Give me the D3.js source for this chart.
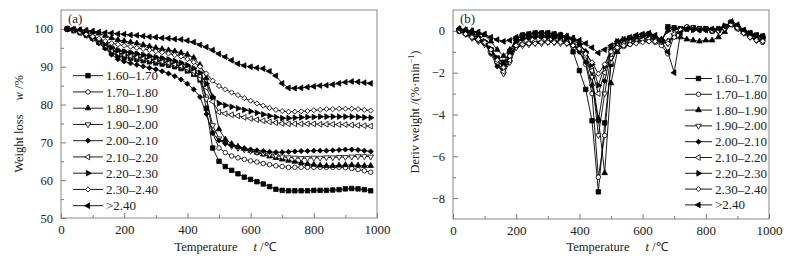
<!DOCTYPE html>
<html>
<head>
<meta charset="utf-8">
<script src="https://cdn.jsdelivr.net/npm/d3@7"></script>
<style>
  body { margin: 0; background: #fff; }
  text { font-family: "Liberation Serif", "Times New Roman", serif; fill: #222; }
</style>
</head>
<body>
<svg id="chart" width="802" height="260"></svg>
<script>
// temperature grid (°C) of the measured points
const temps = [20,40,60,80,100,120,140,160,180,200,220,240,260,280,300,320,340,360,380,400,
  420,440,460,480,500,520,540,560,580,600,620,640,660,680,700,720,740,760,780,800,
  820,840,860,880,900,920,940,960,980]

const seriesNames = ["1.60–1.70","1.70–1.80","1.80–1.90","1.90–2.00","2.00–2.10",
  "2.10–2.20","2.20–2.30","2.30–2.40",">2.40"]

const xTicks = [0,200,400,600,800,1000]
const xMinor = [100,300,500,700,900]
const yTicksA = [50,60,70,80,90,100]
const yMinorA = [55,65,75,85,95]
const yTicksB = [-8,-6,-4,-2,0]
const yMinorB = [-7,-5,-3,-1]

// (a) weight loss w / %
const w1617 = [100,99.7,99.2,98.5,97.6,96.4,95.1,93.7,92.9,92.5,92.2,91.9,91.6,91.3,91.0,90.7,90.4,90.0,89.5,88.9,
  88.0,86.5,79.0,68.5,65.0,63.6,62.6,61.7,60.8,60.2,59.6,59.0,58.3,57.6,57.3,57.2,57.2,57.2,57.2,57.3,
  57.3,57.3,57.4,57.5,57.7,57.8,57.7,57.5,57.2]
const w1718 = [100,99.7,99.2,98.6,97.9,97.1,96.2,95.2,94.4,94.0,93.7,93.4,93.1,92.8,92.5,92.2,91.8,91.4,90.9,90.2,
  89.2,87.6,82.0,72.5,68.5,67.3,66.4,65.9,65.5,65.1,64.8,64.4,64.1,63.8,63.6,63.4,63.4,63.4,63.4,63.4,
  63.4,63.4,63.4,63.4,63.3,63.1,62.8,62.5,62.1]
const w1819 = [100,99.9,99.7,99.5,99.2,98.8,98.2,97.6,97.1,96.8,96.5,96.2,95.8,95.4,95.0,94.7,94.4,94.1,93.7,93.2,
  92.4,90.5,87.0,82.0,73.5,70.8,69.6,68.9,68.3,67.8,67.3,66.8,66.3,65.9,65.5,65.2,64.9,64.6,64.3,64.1,
  63.9,63.8,63.8,63.9,64.0,64.0,63.9,63.8,63.8]
const w1920 = [100,99.7,99.2,98.5,97.8,97.0,96.0,94.8,93.8,93.2,92.8,92.5,92.2,91.9,91.6,91.3,90.9,90.5,90.0,89.3,
  88.3,86.8,81.5,74.5,71.0,69.8,69.0,68.5,68.1,67.7,67.4,67.1,66.8,66.5,66.2,66.0,65.9,65.8,65.8,65.9,
  65.9,66.0,66.0,66.1,66.1,66.2,66.3,66.3,66.2]
const w2021 = [100,99.6,99.0,98.2,97.3,96.2,94.8,93.2,92.0,91.4,90.9,90.5,90.1,89.7,89.3,88.8,88.2,87.5,86.6,85.5,
  84.0,82.0,77.5,72.5,70.5,69.7,69.2,68.8,68.4,68.1,67.9,67.7,67.5,67.4,67.4,67.5,67.6,67.7,67.7,67.8,
  67.8,67.8,67.9,68.0,68.1,68.1,68.0,67.8,67.6]
const w2122 = [100,99.6,99.0,98.3,97.5,96.6,95.6,94.4,93.6,93.2,92.9,92.6,92.3,92.0,91.7,91.4,91.1,90.7,90.2,89.6,
  88.8,87.6,84.5,80.8,78.0,77.6,77.3,77.0,76.6,76.3,76.0,75.7,75.4,75.2,75.0,74.9,74.9,74.9,74.9,74.9,
  74.8,74.8,74.8,74.7,74.7,74.6,74.5,74.4,74.3]
const w2223 = [100,99.6,99.1,98.4,97.7,96.9,96.0,95.0,94.3,94.0,93.7,93.4,93.1,92.8,92.5,92.2,91.9,91.5,91.0,90.4,
  89.6,88.4,85.5,82.0,80.3,79.8,79.4,79.0,78.6,78.2,77.8,77.4,77.0,76.7,76.4,76.4,76.5,76.6,76.7,76.7,
  76.8,76.8,76.8,76.8,76.8,76.8,76.7,76.6,76.5]
const w2324 = [100,99.7,99.2,98.6,98.0,97.4,96.8,96.2,95.9,95.6,95.3,95.0,94.7,94.4,94.1,93.8,93.5,93.1,92.7,92.0,
  91.2,90.0,88.2,86.3,84.9,84.0,83.2,82.5,81.7,81.0,80.3,79.7,79.1,78.6,78.3,78.1,78.1,78.2,78.3,78.5,
  78.6,78.8,78.8,78.9,78.9,78.9,78.8,78.6,78.4]
const w24 = [100,99.9,99.8,99.6,99.4,99.2,99.0,98.9,98.7,98.6,98.4,98.3,98.1,97.9,97.8,97.6,97.5,97.3,97.2,96.9,
  96.5,95.8,95.2,94.4,93.4,92.6,91.7,90.8,90.3,90.0,89.7,89.5,88.8,87.6,85.6,84.4,84.3,84.4,84.6,84.8,
  85.0,85.1,85.3,85.6,85.9,86.1,86.0,85.8,85.6]

// (b) derivative weight / (%·min-1)
const d1617 = [0.0,-0.1,-0.2,-0.35,-0.55,-0.9,-1.3,-1.5,-1.0,-0.4,-0.2,-0.15,-0.1,-0.1,-0.1,-0.15,-0.2,-0.4,-1.0,-1.9,
  -2.8,-4.3,-7.7,-4.4,-1.6,-0.75,-0.5,-0.35,-0.3,-0.2,-0.15,-0.35,-0.5,0.2,0.15,0.1,0.1,0.15,0.1,0.1,
  0.0,0.05,0.2,0.4,0.2,0.0,-0.1,-0.2,-0.25]
const d1718 = [0.0,-0.15,-0.3,-0.45,-0.6,-0.95,-1.4,-1.7,-1.2,-0.75,-0.65,-0.6,-0.55,-0.55,-0.5,-0.5,-0.5,-0.55,-0.7,-1.0,
  -1.6,-3.0,-7.0,-5.0,-1.5,-0.9,-0.75,-0.65,-0.55,-0.5,-0.5,-0.55,-0.7,-1.1,-0.2,0.1,0.2,0.15,0.1,0.05,
  0.0,0.0,0.1,0.3,0.1,-0.1,-0.3,-0.45,-0.55]
const d1819 = [0.1,0.05,0.0,-0.1,-0.2,-0.5,-0.9,-1.2,-0.9,-0.4,-0.25,-0.2,-0.2,-0.2,-0.2,-0.2,-0.2,-0.25,-0.35,-0.6,
  -1.0,-2.2,-4.2,-6.8,-2.5,-1.0,-0.7,-0.55,-0.45,-0.4,-0.3,-0.3,-0.4,-0.5,-0.3,-0.3,-0.4,-0.45,-0.5,-0.45,
  -0.45,-0.3,-0.05,0.3,0.2,-0.05,-0.2,-0.3,-0.3]
const d1920 = [0.0,-0.15,-0.35,-0.5,-0.65,-1.0,-1.6,-2.05,-1.5,-0.8,-0.7,-0.65,-0.6,-0.6,-0.55,-0.55,-0.6,-0.6,-0.7,-0.9,
  -1.3,-2.2,-5.0,-3.0,-1.3,-0.8,-0.6,-0.5,-0.45,-0.45,-0.4,-0.45,-0.5,-0.6,-0.2,0.1,0.15,0.1,0.05,0.1,
  0.0,0.0,0.15,0.35,0.15,-0.1,-0.3,-0.45,-0.5]
const d2021 = [0.0,-0.1,-0.3,-0.45,-0.6,-1.1,-1.7,-1.9,-1.3,-0.55,-0.4,-0.35,-0.3,-0.3,-0.3,-0.35,-0.4,-0.5,-0.7,-1.0,
  -1.5,-2.6,-4.3,-2.4,-1.0,-0.6,-0.45,-0.35,-0.3,-0.25,-0.2,-0.3,-0.45,0.1,0.15,0.1,0.1,0.05,0.05,0.05,
  0.0,0.05,0.2,0.4,0.25,0.0,-0.15,-0.25,-0.3]
const d2122 = [0.0,-0.15,-0.3,-0.45,-0.6,-1.0,-1.5,-1.95,-1.4,-0.7,-0.6,-0.55,-0.5,-0.5,-0.5,-0.5,-0.5,-0.55,-0.65,-0.85,
  -1.2,-1.9,-3.0,-2.0,-0.9,-0.6,-0.5,-0.45,-0.4,-0.4,-0.35,-0.4,-0.45,-0.5,-0.15,0.1,0.15,0.1,0.1,0.05,
  0.0,0.05,0.15,0.3,0.1,-0.1,-0.25,-0.4,-0.45]
const d2223 = [0.05,0.0,-0.15,-0.3,-0.5,-0.85,-1.3,-1.6,-1.1,-0.5,-0.35,-0.3,-0.25,-0.25,-0.25,-0.3,-0.3,-0.35,-0.45,-0.65,
  -1.0,-1.6,-2.6,-1.7,-0.8,-0.5,-0.4,-0.35,-0.3,-0.25,-0.2,-0.3,-0.45,0.0,0.1,0.1,0.1,0.05,0.1,0.1,
  0.05,0.1,0.25,0.4,0.2,0.0,-0.15,-0.25,-0.3]
const d2324 = [0.0,-0.15,-0.3,-0.4,-0.55,-0.9,-1.4,-1.75,-1.2,-0.7,-0.65,-0.6,-0.6,-0.55,-0.55,-0.55,-0.55,-0.6,-0.7,-0.85,
  -1.1,-1.5,-2.05,-1.6,-1.0,-0.8,-0.7,-0.65,-0.6,-0.55,-0.5,-0.5,-0.55,-0.6,-0.3,0.05,0.2,0.15,0.1,0.05,
  0.0,0.0,0.1,0.3,0.15,-0.1,-0.3,-0.45,-0.5]
const d24 = [0.1,0.05,0.0,-0.05,-0.15,-0.3,-0.42,-0.5,-0.45,-0.3,-0.2,-0.15,-0.1,-0.1,-0.1,-0.15,-0.2,-0.25,-0.35,-0.45,
  -0.6,-0.8,-1.05,-0.9,-0.7,-0.5,-0.4,-0.3,-0.2,-0.15,-0.1,-0.2,-0.5,-1.0,-2.0,-0.1,0.1,0.1,0.05,0.05,
  0.1,0.1,0.2,0.45,0.3,0.05,-0.1,-0.2,-0.25]

const weightSeries = [w1617, w1718, w1819, w1920, w2021, w2122, w2223, w2324, w24]
const derivSeries = [d1617, d1718, d1819, d1920, d2021, d2122, d2223, d2324, d24]

// marker style per series (same order as seriesNames)
const markers = [
  { type: d3.symbolSquare,   fill: true,  rot: 0,   size: 20 },
  { type: d3.symbolCircle,   fill: false, rot: 0,   size: 16 },
  { type: d3.symbolTriangle, fill: true,  rot: 0,   size: 14 },
  { type: d3.symbolTriangle, fill: false, rot: 180, size: 14 },
  { type: d3.symbolSquare,   fill: true,  rot: 45,  size: 13 },
  { type: d3.symbolTriangle, fill: false, rot: -90, size: 14 },
  { type: d3.symbolTriangle, fill: true,  rot: 90,  size: 14 },
  { type: d3.symbolSquare,   fill: false, rot: 45,  size: 13 },
  { type: d3.symbolTriangle, fill: true,  rot: -90, size: 14 }
]

const svg = d3.select("#chart")

const drawMarker = (g, m, cx, cy) => {
  g.append("path")
    .attr("d", d3.symbol().type(m.type).size(m.size)())
    .attr("transform", `translate(${cx},${cy}) rotate(${m.rot})`)
    .attr("fill", m.fill ? "#000" : "#fff")
    .attr("stroke", "#000")
    .attr("stroke-width", 0.8)
}

const drawPanel = (cfg) => {
  const x = d3.scaleLinear().domain([0, 1000]).range([cfg.left, cfg.right])
  const y = d3.scaleLinear().domain(cfg.yDomain).range([cfg.bottom, cfg.top])
  const g = svg.append("g")

  // ticks (inward)
  const styleAxis = sel => {
    sel.select(".domain").remove()
    sel.selectAll("line").attr("stroke", "#777")
    sel.selectAll("text").attr("font-family", null).style("fill", "#222")
  }
  g.append("g").attr("transform", `translate(0,${cfg.bottom})`)
    .call(d3.axisBottom(x).tickValues(xTicks).tickSize(-5).tickSizeOuter(0).tickPadding(7).tickFormat(d3.format("d")))
    .call(styleAxis).selectAll("text").attr("font-size", 13)
  g.append("g").attr("transform", `translate(0,${cfg.bottom})`)
    .call(d3.axisBottom(x).tickValues(xMinor).tickSize(-3).tickFormat(""))
    .call(styleAxis)
  g.append("g").attr("transform", `translate(${cfg.left},0)`)
    .call(d3.axisLeft(y).tickValues(cfg.yTicks).tickSize(-5).tickSizeOuter(0).tickPadding(8).tickFormat(d3.format("d")))
    .call(styleAxis).selectAll("text").attr("font-size", 12.5)
  g.append("g").attr("transform", `translate(${cfg.left},0)`)
    .call(d3.axisLeft(y).tickValues(cfg.yMinor).tickSize(-3).tickFormat(""))
    .call(styleAxis)

  // frame
  g.append("rect")
    .attr("x", cfg.left).attr("y", cfg.top)
    .attr("width", cfg.right - cfg.left).attr("height", cfg.bottom - cfg.top)
    .attr("fill", "none").attr("stroke", "#888").attr("stroke-width", 1)

  // curves
  const line = d3.line().x((d, i) => x(temps[i])).y(d => y(d))
  cfg.series.forEach((vals, k) => {
    const sg = g.append("g")
    sg.append("path").datum(vals)
      .attr("d", line)
      .attr("fill", "none").attr("stroke", "#000").attr("stroke-width", 0.9)
    vals.forEach((v, i) => drawMarker(sg, markers[k], x(temps[i]), y(v)))
  })

  // legend
  seriesNames.forEach((name, k) => {
    const ly = cfg.legY0 + k * cfg.legStep
    const lg = g.append("g")
    lg.append("line")
      .attr("x1", cfg.legX).attr("x2", cfg.legX + cfg.legLen)
      .attr("y1", ly).attr("y2", ly)
      .attr("stroke", "#000").attr("stroke-width", 0.9)
    drawMarker(lg, markers[k], cfg.legX + cfg.legLen / 2, ly)
    lg.append("text")
      .attr("x", cfg.legX + cfg.legLen + 3).attr("y", ly).attr("dy", "0.35em")
      .attr("font-size", 13)
      .text(name)
  })

  // panel tag
  g.append("text").attr("x", cfg.left + 7).attr("y", cfg.top + 13)
    .attr("font-size", 13).text(cfg.tag)

  // x title
  const xt = g.append("text")
    .attr("x", (cfg.left + cfg.right) / 2 + 6).attr("y", 251)
    .attr("text-anchor", "middle").attr("font-size", 12.5)
  xt.append("tspan").text("Temperature")
  xt.append("tspan").attr("dx", 16).attr("font-style", "italic").text("t")
  xt.append("tspan").text(" /℃")

  return { x, y }
}

drawPanel({
  left: 61, right: 377, top: 10, bottom: 218,
  yDomain: [50, 105], yTicks: yTicksA, yMinor: yMinorA,
  series: weightSeries, tag: "(a)",
  legX: 73, legLen: 30, legY0: 75.7, legStep: 16.25
})

drawPanel({
  left: 453, right: 769, top: 10, bottom: 219,
  yDomain: [-9, 1], yTicks: yTicksB, yMinor: yMinorB,
  series: derivSeries, tag: "(b)",
  legX: 685, legLen: 27, legY0: 78.5, legStep: 15.8
})

// y titles
const ya = svg.append("text")
  .attr("transform", "translate(23,124) rotate(-90)")
  .attr("text-anchor", "middle").attr("font-size", 12.5)
ya.append("tspan").text("Weight loss")
ya.append("tspan").attr("dx", 14).attr("font-style", "italic").text("w")
ya.append("tspan").text(" /%")

const yb = svg.append("text")
  .attr("transform", "translate(419,112) rotate(-90)")
  .attr("text-anchor", "middle").attr("font-size", 12.5)
yb.append("tspan").text("Deriv weight /(%·min")
yb.append("tspan").attr("font-size", 8).attr("dy", -5).text("−1")
yb.append("tspan").attr("dy", 5).text(")")
</script>
</body>
</html>
